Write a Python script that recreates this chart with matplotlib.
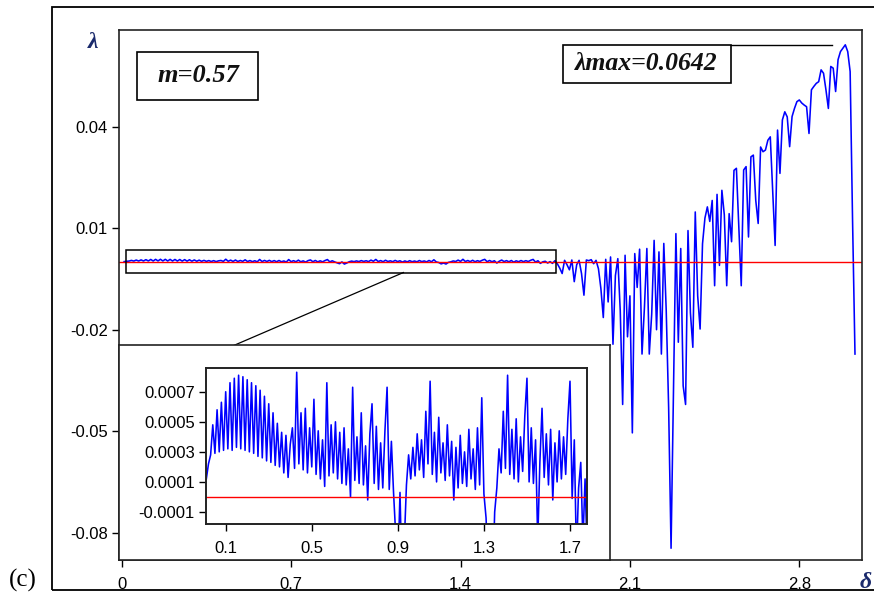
import numpy as np
import matplotlib.pyplot as plt
from matplotlib.patches import Rectangle

plt.rcParams['font.family'] = ['Liberation Sans', 'DejaVu Sans']

# Lyapunov exponent lambda, in units of 1e-4, one value every 0.01 in delta (from 0.01)
# delta 0.01 - 0.40
lam_a = [1.2, 2.2, 2.8, 4.8, 2.9, 5.8, 3.0, 6.3, 3.1, 7.0,
         3.2, 7.6, 3.1, 7.9, 3.3, 8.1, 3.2, 8.0, 3.1, 7.8,
         3.0, 7.6, 2.9, 7.4, 2.7, 7.1, 2.6, 6.7, 2.4, 6.2,
         2.3, 5.6, 2.1, 4.9, 2.0, 4.3, 1.6, 4.1, 1.3, 3.5]
# delta 0.41 - 0.90
lam_b = [4.6, 1.9, 8.3, 2.2, 5.6, 1.8, 5.9, 1.6, 4.6, 2.0,
         6.5, 1.5, 4.4, 1.2, 3.8, 0.7, 7.6, 1.4, 4.8, 1.6,
         5.0, 1.2, 4.3, 0.9, 4.6, 0.8, 3.2, 0.0, 7.3, 1.1,
         4.0, 0.9, 5.6, 0.8, 3.4, -0.2, 4.2, 6.2, 0.9, 4.7,
         0.5, 3.6, 0.6, 4.4, 7.3, 0.5, 3.7, 0.3, -2.5, -5.0]
# delta 0.91 - 1.78
lam_c = [0.3, -6.0, -3.0, 0.8, 2.8, 1.2, 3.3, 1.4, 4.2, 1.8,
         3.8, 1.3, 5.7, 2.2, 7.7, 1.5, 4.3, 1.0, 5.3, 1.6,
         3.6, 1.1, 4.8, 1.4, 3.7, -0.2, 3.3, 0.6, 4.1, 0.9,
         3.0, 0.7, 4.5, 1.2, 3.2, 0.5, 4.6, 0.8, 6.6, 0.2,
         -1.4, -5.5, -3.0, -6.0, -1.0, 0.6, 3.2, 1.6, 5.7, 1.9,
         8.1, 1.5, 4.5, 1.2, 5.2, 1.0, 4.0, 1.7, 5.4, 7.9,
         1.0, 4.6, 0.9, 3.8, -3.0, 2.3, 5.9, 1.3, 4.2, 0.8,
         4.5, -0.2, 3.6, 1.0, 4.4, 1.2, 4.0, 1.5, 5.2, 7.7,
         -0.1, 3.8, -4.0, 0.6, 2.3, -3.0, 1.2, -4.0]
# delta 1.79 - 3.03
lam_d = [4, -5, -18, -34, 5, -8, -23, 6, -58, -8,
         5, -34, -98, 6, 4, 7, -5, 5, -20, -78,
         -164, 8, -118, 15, -243, -40, 10, -143, -421, 20,
         -221, -100, -505, 25, -75, 38, -272, -134, 40, -272,
         -154, 64, -200, 30, -272, 55, -143, -430, -846, -381,
         84, -237, 40, -366, -421, 93, -150, -252, 148, -100,
         -198, 54, 130, 163, 120, 182, -70, 200, -10, 212,
         140, -70, 143, 60, 271, 277, 103, -70, 272, 282,
         74, 311, 316, 182, 114, 340, 326, 331, 360, 370,
         212, 49, 390, 262, 420, 444, 429, 341, 430, 454,
         474, 479, 470, 464, 459, 380, 509, 519, 528, 533,
         568, 558, 509, 454, 578, 573, 504, 598, 622, 632,
         642, 622, 563, 123, -272]

d_step = 0.01
lam = np.array(lam_a + lam_b + lam_c + lam_d) * 1e-4
delta = np.arange(1, len(lam) + 1) * d_step

main_xticks = [0, 0.7, 1.4, 2.1, 2.8]
main_xlabels = ['0', '0.7', '1.4', '2.1', '2.8']
main_yticks = [0.04, 0.01, -0.02, -0.05, -0.08]
main_ylabels = ['0.04', '0.01', '-0.02', '-0.05', '-0.08']
ins_xticks = [0.1, 0.5, 0.9, 1.3, 1.7]
ins_xlabels = ['0.1', '0.5', '0.9', '1.3', '1.7']
ins_yticks = [0.0007, 0.0005, 0.0003, 0.0001, -0.0001]
ins_ylabels = ['0.0007', '0.0005', '0.0003', '0.0001', '-0.0001']
lam_max = 0.0642
m_text = 'm=0.57'

W, H = 874, 604
def fx(px):
    return px / W
def fy(py):
    return 1 - py / H

blue = '#0000ff'
red = '#ff0000'
serif = ['Liberation Serif', 'DejaVu Serif']

fig = plt.figure(figsize=(8.74, 6.04), dpi=100)

# outer frame
fig.add_artist(Rectangle((fx(52), fy(590)), 1.0, fy(7) - fy(590), transform=fig.transFigure,
                         fill=False, ec='black', lw=1.3))

# main axes
ax = fig.add_axes([fx(119), fy(560), fx(862) - fx(119), fy(30) - fy(560)])
ax.plot(delta, lam, color=blue, lw=1.15)
ax.axhline(0, color=red, lw=1.0)
ax.set_xlim(-0.0112, 3.059)
ax.set_ylim(-0.08807, 0.06858)
ax.set_xticks(main_xticks)
ax.set_xticklabels(main_xlabels)
ax.set_yticks(main_yticks)
ax.set_yticklabels(main_ylabels)
ax.tick_params(axis='x', direction='out', length=5, width=1, labelsize=12, pad=7)
ax.tick_params(axis='y', direction='out', length=5, width=1, labelsize=12, pad=3)
for s in ax.spines.values():
    s.set_linewidth(1.2)
    s.set_color('#222222')

# zoomed region marker and connector
ax.add_patch(Rectangle((0.019, -0.0031), 1.776, 0.0068, fill=False, ec='black', lw=1.1, zorder=4))
ax.plot([1.164, 0.46], [-0.0031, -0.02476], color='black', lw=0.9, clip_on=False)

# lambda max marker line
ax.plot([2.519, 2.935], [lam_max, lam_max], color='black', lw=1.0)

# text boxes
fig.add_artist(Rectangle((fx(137), fy(100)), fx(258) - fx(137), fy(52) - fy(100),
                         transform=fig.transFigure, fill=False, ec='black', lw=1.2))
fig.text(fx(198), fy(76), m_text, ha='center', va='center', family=serif,
         fontweight='bold', fontstyle='italic', fontsize=19, color='#111111')
fig.add_artist(Rectangle((fx(563), fy(83)), fx(731) - fx(563), fy(45) - fy(83),
                         transform=fig.transFigure, fill=False, ec='black', lw=1.2))
fig.text(fx(646), fy(64), 'λmax=%.4f' % lam_max, ha='center', va='center', family=serif,
         fontweight='bold', fontstyle='italic', fontsize=18.5, color='#111111')

# axis symbols and panel label
fig.text(fx(93), fy(43), 'λ', ha='center', va='center', family=serif,
         fontweight='bold', fontstyle='italic', fontsize=17, color='#1a2a6c')
fig.text(fx(866), fy(582), 'δ', ha='center', va='center', family=serif,
         fontweight='bold', fontstyle='italic', fontsize=17, color='#1a2a6c')
fig.text(fx(23), fy(580), '(c)', ha='center', va='center', family=serif, fontsize=18)

# inset panel
pan = fig.add_axes([fx(119), fy(560), fx(610) - fx(119), fy(345) - fy(560)])
pan.set_xticks([])
pan.set_yticks([])
for s in pan.spines.values():
    s.set_linewidth(1.2)
    s.set_color('#222222')

ins = fig.add_axes([fx(206), fy(524), fx(587) - fx(206), fy(368) - fy(524)])
ins.plot(delta, lam, color=blue, lw=1.15)
ins.axhline(0, color=red, lw=1.0)
ins.set_xlim(0.0085, 1.779)
ins.set_ylim(-0.00018, 0.000858)
ins.set_xticks(ins_xticks)
ins.set_xticklabels(ins_xlabels)
ins.set_yticks(ins_yticks)
ins.set_yticklabels(ins_ylabels)
ins.tick_params(axis='x', direction='out', length=5, width=1, labelsize=12, pad=7)
ins.tick_params(axis='y', direction='out', length=5, width=1, labelsize=12, pad=3)
for s in ins.spines.values():
    s.set_linewidth(1.4)
    s.set_color('#222222')

fig.savefig('out.png', dpi=100)
